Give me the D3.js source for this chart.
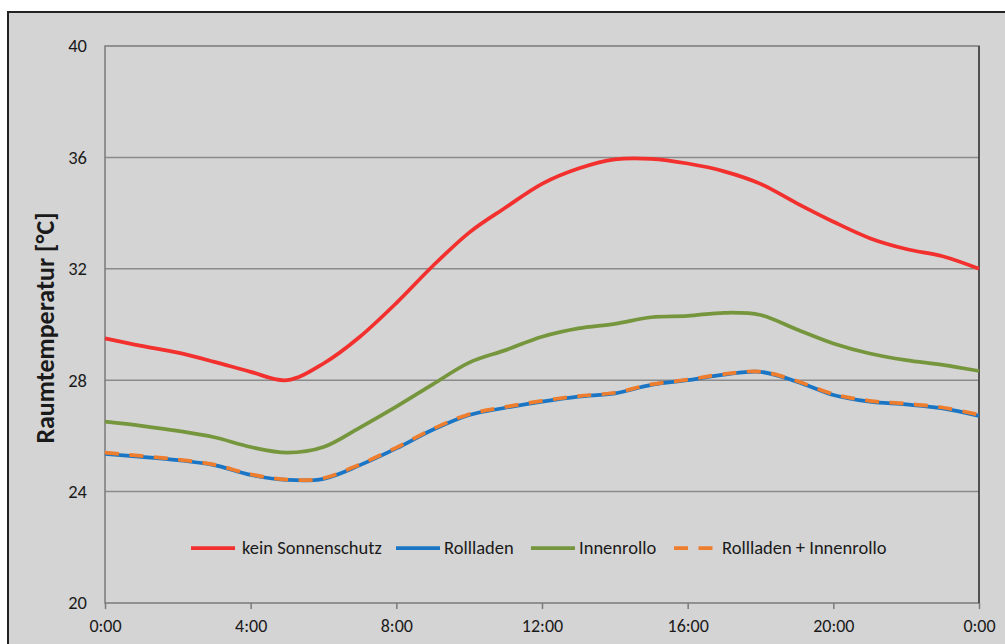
<!DOCTYPE html>
<html>
<head>
<meta charset="utf-8">
<script src="https://cdn.jsdelivr.net/npm/d3@7"></script>
<style>
  body { margin: 0; background: #ffffff; }
  svg text { font-family: Carlito, Lato, "Open Sans", sans-serif; fill: #1a1a1a; }
</style>
</head>
<body>
<div id="chart"></div>
<script>
// hours 0..24
var hours = d3.range(0, 25);
var yTicks = [20, 24, 28, 32, 36, 40];
var xTicks = [0, 4, 8, 12, 16, 20, 24];
var xTickLabels = ["0:00", "4:00", "8:00", "12:00", "16:00", "20:00", "0:00"];

var keinSonnenschutz = [29.5, 29.23, 28.99, 28.66, 28.3, 28.0, 28.6, 29.56, 30.77, 32.1, 33.3, 34.2, 35.05,
  35.6, 35.93, 35.95, 35.78, 35.5, 35.05, 34.35, 33.69, 33.1, 32.71, 32.45, 32.0];
var rollladen = [25.35, 25.25, 25.13, 24.95, 24.6, 24.42, 24.46, 24.95, 25.55, 26.22, 26.75, 27.01, 27.23,
  27.41, 27.53, 27.83, 28.0, 28.2, 28.3, 27.95, 27.47, 27.23, 27.13, 26.99, 26.72];
var innenrollo = [26.51, 26.36, 26.18, 25.95, 25.6, 25.4, 25.6, 26.3, 27.05, 27.85, 28.63, 29.08, 29.56,
  29.86, 30.02, 30.26, 30.31, 30.42, 30.34, 29.82, 29.32, 28.96, 28.72, 28.55, 28.33];
var rollladenInnen = [25.4, 25.28, 25.15, 24.97, 24.62, 24.43, 24.48, 24.98, 25.58, 26.25, 26.78, 27.04, 27.26,
  27.43, 27.55, 27.85, 28.02, 28.22, 28.31, 27.97, 27.5, 27.26, 27.16, 27.02, 26.76];

var seriesNames = ["kein Sonnenschutz", "Rollladen", "Innenrollo", "Rollladen + Innenrollo"];
var seriesValues = [keinSonnenschutz, rollladen, innenrollo, rollladenInnen];
var seriesColors = ["#f2302e", "#1a75c4", "#76963d", "#ee7d2e"];
var seriesDash = [null, null, null, "14,10.5"];

var width = 1005, height = 644;
var margin = { left: 105, right: 26, top: 46, bottom: 41 };

var svg = d3.select("#chart").append("svg")
    .attr("width", width)
    .attr("height", height);

// chart area background + outer frame
svg.append("rect")
    .attr("x", 0).attr("y", 0)
    .attr("width", width).attr("height", height)
    .attr("fill", "#ffffff");
svg.append("rect")
    .attr("x", 8).attr("y", 12)
    .attr("width", width + 10).attr("height", height)
    .attr("fill", "#d4d4d4")
    .attr("stroke", "#222222")
    .attr("stroke-width", 2);

var x = d3.scaleLinear()
    .domain([0, 24])
    .range([margin.left, width - margin.right]);

var y = d3.scaleLinear()
    .domain([20, 40])
    .range([height - margin.bottom, margin.top]);

// gridlines
svg.append("g")
    .selectAll("line")
    .data(yTicks.slice(1, -1))
    .enter().append("line")
      .attr("x1", x(0)).attr("x2", x(24))
      .attr("y1", function(d) { return y(d); })
      .attr("y2", function(d) { return y(d); })
      .attr("stroke", "#8a8a8a")
      .attr("stroke-width", 1.5);

// plot frame
svg.append("rect")
    .attr("x", x(0)).attr("y", y(40))
    .attr("width", x(24) - x(0)).attr("height", y(20) - y(40))
    .attr("fill", "none")
    .attr("stroke", "#7a7a7a")
    .attr("stroke-width", 1.5);
svg.append("line")
    .attr("x1", x(24)).attr("x2", x(24))
    .attr("y1", y(40)).attr("y2", y(20))
    .attr("stroke", "#3c3c3c")
    .attr("stroke-width", 1.5);

// y axis
var yAxis = d3.axisLeft(y)
    .tickValues(yTicks)
    .tickSize(0)
    .tickPadding(18)
    .tickFormat(function(d) { return d; });
var yAxisGroup = svg.append("g")
    .attr("transform", "translate(" + x(0) + ",0)")
    .call(yAxis);
yAxisGroup.select(".domain").remove();
yAxisGroup.selectAll("text")
    .attr("font-size", "18.5px")
    .style("font-family", "Carlito, Lato, sans-serif");

// x axis
var xAxis = d3.axisBottom(x)
    .tickValues(xTicks)
    .tickSize(6)
    .tickPadding(10)
    .tickFormat(function(d, i) { return xTickLabels[i]; });
var xAxisGroup = svg.append("g")
    .attr("transform", "translate(0," + y(20) + ")")
    .call(xAxis);
xAxisGroup.select(".domain").remove();
xAxisGroup.selectAll(".tick line")
    .attr("stroke", "#7a7a7a")
    .attr("stroke-width", 1.5);
xAxisGroup.selectAll("text")
    .attr("font-size", "18px")
    .style("font-family", "Carlito, Lato, sans-serif");

// y label
svg.append("text")
    .attr("transform", "translate(54," + 328 + ") rotate(-90)")
    .attr("text-anchor", "middle")
    .attr("font-size", "26px")
    .attr("font-weight", "bold")
    .text("Raumtemperatur [°C]");

// lines
var line = d3.line()
    .x(function(d, i) { return x(hours[i]); })
    .y(function(d) { return y(d); })
    .curve(d3.curveCardinal.tension(0));

svg.append("g")
    .selectAll("path")
    .data(seriesValues)
    .enter().append("path")
      .attr("d", function(d) { return line(d); })
      .attr("fill", "none")
      .attr("stroke", function(d, i) { return seriesColors[i]; })
      .attr("stroke-width", 3.75)
      .attr("stroke-dasharray", function(d, i) { return seriesDash[i]; })
      .attr("stroke-linecap", "butt");

// legend
var legendX = [191, 396, 531, 674];
var legendTextX = [51, 48, 48, 48];
var legend = svg.append("g")
    .attr("transform", "translate(0,548)");
var item = legend.selectAll("g")
    .data(seriesNames)
    .enter().append("g")
      .attr("transform", function(d, i) { return "translate(" + legendX[i] + ",0)"; });
item.append("line")
    .attr("x1", 0).attr("x2", function(d, i) { return i == 3 ? 38.5 : 44; })
    .attr("y1", 0).attr("y2", 0)
    .attr("stroke", function(d, i) { return seriesColors[i]; })
    .attr("stroke-width", 3.75)
    .attr("stroke-dasharray", function(d, i) { return seriesDash[i]; });
item.append("text")
    .attr("x", function(d, i) { return legendTextX[i]; })
    .attr("y", 0)
    .attr("dy", "0.35em")
    .attr("font-size", "18.5px")
    .text(function(d) { return d; });
</script>
</body>
</html>
